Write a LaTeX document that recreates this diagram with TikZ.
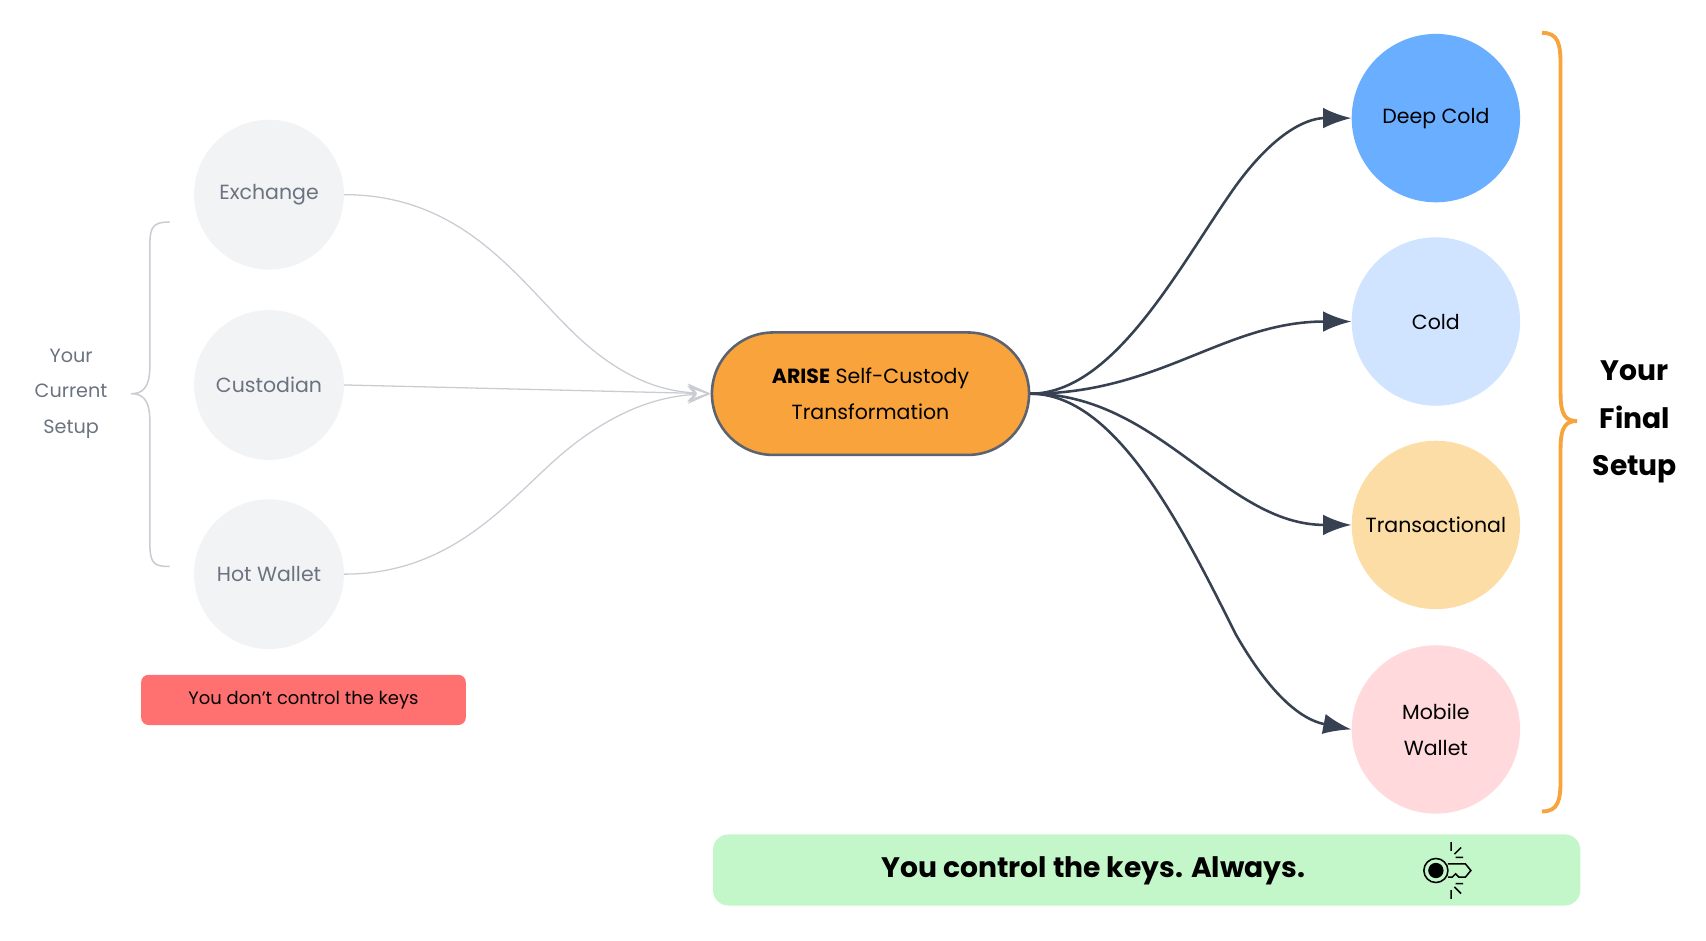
\documentclass[tikz,border=0pt]{standalone}
\usepackage{fontspec}
\setmainfont{Poppins}
\usetikzlibrary{arrows.meta}
\definecolor{lgray}{HTML}{F2F3F5}
\definecolor{tgray}{HTML}{6B7280}
\definecolor{dark}{HTML}{374151}
\definecolor{orng}{HTML}{F8A33C}
\definecolor{red1}{HTML}{FF7171}
\definecolor{green1}{HTML}{C3F6C8}
\definecolor{c1}{HTML}{6AAFFF}
\definecolor{c2}{HTML}{D0E4FF}
\definecolor{c3}{HTML}{FCDDA5}
\definecolor{c4}{HTML}{FFD9DB}
\definecolor{bord}{HTML}{5B6270}
\definecolor{edgegray}{HTML}{C9CDD3}
\begin{document}
\begin{tikzpicture}[x=0.03cm,y=-0.03cm,
  src/.style={circle,fill=lgray,minimum size=137*0.03cm,inner sep=0pt,text=tgray,font=\fontsize{16}{19}\selectfont},
  dst/.style={circle,minimum size=154*0.03cm,inner sep=0pt,align=center,font=\fontsize{16}{28}\selectfont},
  gedge/.style={edgegray,line width=1pt,-{Stealth[open,length=18pt,width=14pt]}},
  dedge/.style={dark,line width=2pt,-{Latex[length=22pt,width=16pt]}}]
\useasboundingbox (0,0) rectangle (1560,860);
\node[src] (ex) at (246,178) {Exchange};
\node[src] (cu) at (246,352) {Custodian};
\node[src] (hw) at (246,525) {Hot Wallet};
\node[align=center,text=tgray,font=\fontsize{15}{28}\selectfont] (cs) at (65,360) {Your\\Current\\Setup};
\draw[edgegray,line width=1.2pt] (155,203) .. controls (137,203) and (137,210) .. (137,230) -- (137,335) .. controls (137,355) and (130,360) .. (120,360) .. controls (130,360) and (137,365) .. (137,385) -- (137,495) .. controls (137,515) and (140,518) .. (155,518);
\node[fill=red1,rounded corners=6pt,minimum width=297*0.03cm,minimum height=46*0.03cm,font=\fontsize{14}{17}\selectfont] (red) at (277.5,640) {You don't control the keys};
\node[fill=orng,draw=bord,line width=2pt,rounded corners=56*0.03cm,minimum width=290*0.03cm,minimum height=112*0.03cm,align=center,font=\fontsize{16}{28}\selectfont] (ar) at (796,360) {\textbf{ARISE} Self-Custody\\Transformation};
\node[dst,fill=c1] (d1) at (1313,108) {Deep Cold};
\node[dst,fill=c2] (d2) at (1313,294) {Cold};
\node[dst,fill=c3] (d3) at (1313,480) {Transactional};
\node[dst,fill=c4] (d4) at (1313,667) {Mobile\\Wallet};
\draw[gedge] (ex.east) .. controls (420,178) and (470,250) .. (520,300) .. controls (570,350) and (610,358) .. (ar.west);
\draw[gedge] (cu.east) -- (ar.west);
\draw[gedge] (hw.east) .. controls (420,525) and (470,450) .. (520,410) .. controls (570,370) and (610,362) .. (ar.west);
\draw[dedge] (ar.east) .. controls (1020,360) and (1080,240) .. (1130,170) .. controls (1170,115) and (1200,108) .. (d1.west);
\draw[dedge] (ar.east) .. controls (1060,360) and (1120,294) .. (d2.west);
\draw[dedge] (ar.east) .. controls (1060,360) and (1120,480) .. (d3.west);
\draw[dedge] (ar.east) .. controls (1020,360) and (1080,480) .. (1130,580) .. controls (1170,650) and (1200,660) .. (d4.west);
\draw[orng,line width=3pt] (1410,30) .. controls (1425,30) and (1427,40) .. (1427,60) -- (1427,360) .. controls (1427,380) and (1432,385) .. (1442,385) .. controls (1432,385) and (1427,390) .. (1427,410) -- (1427,712) .. controls (1427,732) and (1425,742) .. (1410,742);
\node[align=center,font=\fontsize{22}{37}\selectfont\bfseries] (fs) at (1495,386) {Your\\Final\\Setup};
\node[fill=green1,rounded corners=12pt,minimum width=793*0.03cm,minimum height=65*0.03cm] (gb) at (1048.5,795.5) {};
\node[font=\fontsize{22}{26}\selectfont\bfseries,anchor=west] (gt) at (802,796) {You control the keys. Always.};
\coordinate (k) at (1313,796);
\draw[line width=1.2pt] (k) circle (11);
\fill (k) circle (7);
\draw[line width=1.2pt] (1324,790) -- (1340,790) -- (1345,796) -- (1340,802) -- (1334,802) -- (1331,799) -- (1328,802) -- (1324,802);
\draw[line width=1.2pt] (1327,778) -- (1327,770) (1330,781) -- (1336,775) (1327,814) -- (1327,822) (1330,811) -- (1336,817) (1331,784) -- (1338,784) (1331,808) -- (1338,808);
\end{tikzpicture}
\end{document}
